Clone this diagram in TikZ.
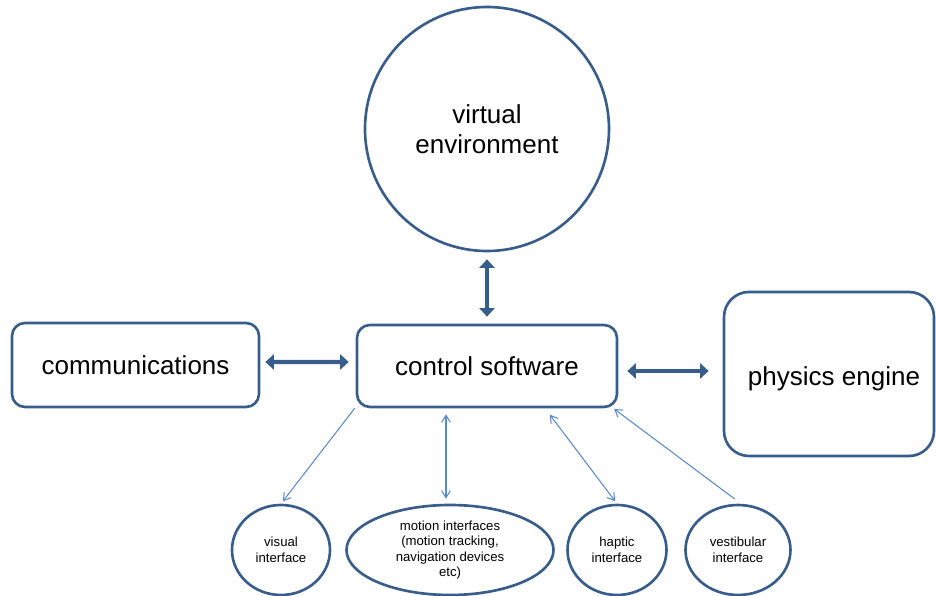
\documentclass[tikz,border=0pt]{standalone}
\usepackage{fontspec}
\setmainfont{Liberation Sans}
\usetikzlibrary{arrows.meta,shapes.geometric}
\definecolor{boxblue}{HTML}{385D8A}
\definecolor{linkblue}{HTML}{5A8AC8}

\tikzset{
    bigbox/.style={draw=boxblue,line width=1.5pt,rounded corners=0.26cm,font=\fontsize{14.8}{17.1}\selectfont,align=center},
    smallell/.style={ellipse,draw=boxblue,line width=1.5pt,inner sep=0pt,minimum height=1.8cm,font=\fontsize{7.5}{8.8}\selectfont,align=center},
    fatarrow/.style={draw=boxblue,line width=2.5pt,{Triangle[length=0.17cm,width=0.3cm]}-{Triangle[length=0.17cm,width=0.3cm]}},
    thinlink/.style={draw=linkblue,line width=0.6pt}
}

\begin{document}
\begin{tikzpicture}
                \useasboundingbox (0,0) rectangle (18.72,11.92);
                \node[circle,draw=boxblue,line width=1.5pt,minimum size=4.88cm,inner sep=0pt,font=\fontsize{14.8}{17.1}\selectfont,align=center] (venv) at (9.74,9.34) {virtual\\environment};
                \node[bigbox,minimum width=5.2cm,minimum height=1.64cm] (ctrl) at (9.74,4.6) {control software};
                \node[bigbox,minimum width=4.94cm,minimum height=1.68cm] (comm) at (2.71,4.62) {communications};
                \node[bigbox,rounded corners=0.5cm,minimum width=4.2cm,minimum height=3.28cm] (phys) at (16.58,4.44) {\hspace{0.2cm}\raisebox{-0.1cm}[\height][\depth]{physics engine}};
                \node[smallell,minimum width=1.96cm] (visual) at (5.62,0.92) {visual\\interface};
                \node[smallell,minimum width=4.14cm] (motion) at (9.0,0.92) {motion interfaces\\(motion tracking,\\navigation devices\\etc)};
                \node[smallell,minimum width=1.98cm] (haptic) at (12.34,0.92) {haptic\\interface};
                \node[smallell,minimum width=2.1cm] (vestib) at (14.76,0.92) {vestibular\\interface};
                \draw[fatarrow,shorten <=0.14cm,shorten >=0.14cm] (venv.south) -- (ctrl.north);
                \draw[fatarrow,shorten <=0.1cm,shorten >=0.14cm] ([yshift=0.06cm]comm.east) -- ([yshift=0.08cm]ctrl.west);
                \draw[fatarrow,shorten <=0.18cm,shorten >=0.28cm] ([yshift=-0.1cm]ctrl.east) -- ([yshift=0.06cm]phys.west);
                \draw[thinlink,-{Straight Barb[length=4pt,width=5pt]},shorten >=0.06cm] ([xshift=-0.02cm]ctrl.south west) -- (visual.north);
                \draw[thinlink,{Straight Barb[length=4pt,width=5pt]}-{Straight Barb[length=4pt,width=5pt]},shorten <=0.1cm,shorten >=0.12cm] ([xshift=-0.08cm]motion.north) -- ([xshift=-0.08cm]motion.north |- ctrl.south);
                \draw[thinlink,{Straight Barb[length=4pt,width=5pt]}-{Straight Barb[length=4pt,width=5pt]},shorten <=0.16cm,shorten >=0.06cm] ([xshift=1.16cm]ctrl.south) -- (haptic.north);
                \draw[thinlink,-{Straight Barb[length=4pt,width=5pt]},shorten <=0.16cm,shorten >=0.02cm] ([xshift=0.06cm]vestib.north) -- ([xshift=-0.1cm]ctrl.south east);
            \end{tikzpicture}
\end{document}
